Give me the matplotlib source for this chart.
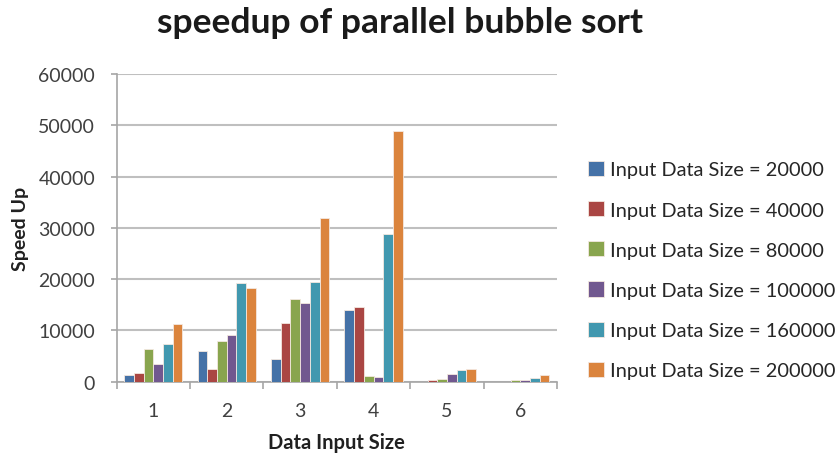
import numpy as np
import matplotlib
matplotlib.use("Agg")
from matplotlib import pyplot as plt

plt.rcParams['font.family'] = ['Lato', 'DejaVu Sans']

# speedup values per group, one list per input data size
categories = [1, 2, 3, 4, 5, 6]
size_20000 = [1300, 5950, 4450, 14050, 0, 0]
size_40000 = [1750, 2550, 11500, 14500, 300, 0]
size_80000 = [6300, 8000, 16150, 1100, 500, 300]
size_100000 = [3400, 9050, 15250, 850, 1500, 300]
size_160000 = [7350, 19200, 19450, 28850, 2200, 700]
size_200000 = [11300, 18250, 31900, 48900, 2550, 1300]

labels = ["Input Data Size = 20000", "Input Data Size = 40000",
          "Input Data Size = 80000", "Input Data Size = 100000",
          "Input Data Size = 160000", "Input Data Size = 200000"]
series = [size_20000, size_40000, size_80000, size_100000, size_160000, size_200000]
colors = ['#4572A7', '#AA4643', '#89A54E', '#71588F', '#4198AF', '#DB843D']

fig = plt.figure(figsize=(8.4, 4.56), dpi=100)
ax = fig.add_axes([0.139, 0.161, 0.524, 0.674])

x = np.arange(len(categories)) + 1
w = 0.132
for i, (vals, lab, col) in enumerate(zip(series, labels, colors)):
    ax.bar(x + (i - 2.5) * w, vals, width=w, color=col, label=lab,
           edgecolor='#f4e8e0', linewidth=0.6, zorder=3)

ax.set_xlim(0.5, 6.5)
ax.set_ylim(0, 60000)
ax.set_yticks(np.arange(0, 60001, 10000))
ax.set_xticks(x)
ax.set_xticklabels([str(c) for c in categories])
ax.set_xticks(np.arange(0.5, 6.6, 1), minor=True)
ax.tick_params(axis='x', which='major', length=0, pad=15, labelsize=14, labelcolor='#404040')
ax.tick_params(axis='x', which='minor', length=5, width=1.2, color='#a6a6a6')
ax.tick_params(axis='y', length=4.5, width=1.2, color='#a6a6a6', pad=11,
               labelsize=14, labelcolor='#404040')

ax.grid(axis='y', color='#bfbfbf', linewidth=1.5, zorder=0)
for side in ['top', 'right']:
    ax.spines[side].set_visible(False)
for side in ['left', 'bottom']:
    ax.spines[side].set_color('#a6a6a6')
    ax.spines[side].set_linewidth(1.2)

ax.set_ylabel("Speed Up", fontsize=14, fontweight='bold', color='#202020', labelpad=7)
ax.set_xlabel("Data Input Size", fontsize=14.5, fontweight='bold', color='#202020', labelpad=9)
fig.suptitle("speedup of parallel bubble sort", x=0.476, y=0.985,
             fontsize=25.5, fontweight='bold', color='#1a1a1a')

leg = ax.legend(loc='center left', bbox_to_anchor=(1.03, 0.363), frameon=False,
                fontsize=14.4, handlelength=0.8, handleheight=0.8, handletextpad=0.3,
                labelspacing=1.13, labelcolor='#262626')

fig.savefig("out.png", dpi=100, facecolor='white')
